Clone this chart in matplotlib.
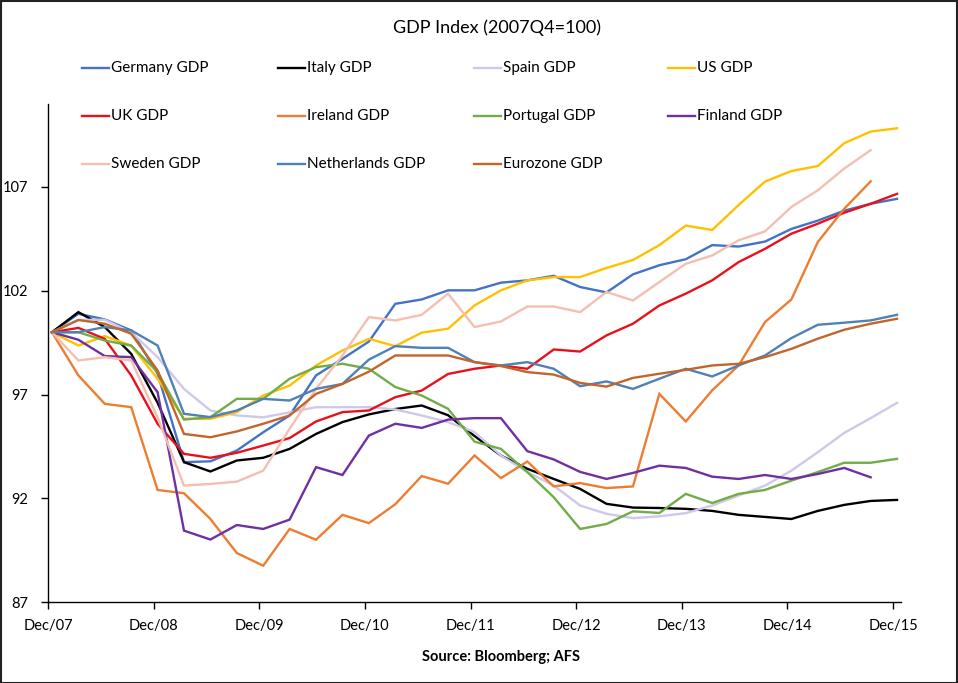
import matplotlib
matplotlib.use("Agg")
import matplotlib.pyplot as plt
from matplotlib.lines import Line2D
from matplotlib.patches import Rectangle
import numpy as np

plt.rcParams['font.family'] = ['Lato', 'DejaVu Sans']

nan = float('nan')

tick_labels = ["Dec/07", "Dec/08", "Dec/09", "Dec/10", "Dec/11",
               "Dec/12", "Dec/13", "Dec/14", "Dec/15"]

germany = [100, 100.89, 100.62, 100.09, 98.0, 93.74, 93.78, 94.3, 95.18, 95.99,
           97.92, 98.72, 99.55, 101.37, 101.58, 102.02, 102.02, 102.39, 102.5,
           102.72, 102.18, 101.92, 102.79, 103.23, 103.52, 104.2, 104.13, 104.37,
           104.98, 105.38, 105.86, 106.19, 106.43]
italy = [100, 100.97, 100.25, 98.96, 96.6, 93.74, 93.29, 93.82, 93.95, 94.38,
         95.10, 95.67, 96.04, 96.3, 96.47, 96.0, 95.0, 94.06, 93.42, 92.93,
         92.45, 91.73, 91.55, 91.53, 91.49, 91.39, 91.2, 91.1, 91.0, 91.39,
         91.68, 91.87, 91.92]
spain = [100, 100.6, 100.6, 100.0, 98.8, 97.27, 96.23, 95.99, 95.9, 96.14,
         96.39, 96.39, 96.39, 96.28, 95.99, 95.67, 95.19, 94.06, 93.26, 92.61,
         91.65, 91.25, 91.04, 91.13, 91.28, 91.65, 92.13, 92.61, 93.33, 94.22,
         95.15, 95.86, 96.6]
us = [100, 99.36, 99.81, 99.36, 97.76, 95.83, 95.83, 96.15, 96.95, 97.43,
      98.4, 99.12, 99.68, 99.33, 99.98, 100.17, 101.29, 102.02, 102.5, 102.66,
      102.66, 103.1, 103.48, 104.2, 105.14, 104.93, 106.13, 107.26, 107.77,
      108.01, 109.11, 109.67, 109.83]
uk = [100, 100.21, 99.68, 97.92, 95.59, 94.14, 93.95, 94.19, 94.54, 94.9,
      95.7, 96.15, 96.23, 96.87, 97.19, 97.99, 98.24, 98.4, 98.24, 99.17,
      99.07, 99.85, 100.41, 101.29, 101.86, 102.5, 103.38, 104.02, 104.75,
      105.23, 105.76, 106.19, 106.67]
ireland = [100, 97.92, 96.55, 96.39, 92.4, 92.24, 91.0, 89.36, 88.75, 90.52,
           90.0, 91.2, 90.8, 91.71, 93.07, 92.7, 94.06, 92.97, 93.77, 92.57,
           92.73, 92.49, 92.57, 97.03, 95.7, 97.2, 98.4, 100.49, 101.58, 104.35,
           105.95, 107.27, nan]
portugal = [100, 100.0, 99.6, 99.36, 98.08, 95.79, 95.91, 96.79, 96.79, 97.76,
            98.32, 98.48, 98.24, 97.36, 96.95, 96.31, 94.73, 94.38, 93.26, 92.05,
            90.52, 90.76, 91.37, 91.29, 92.21, 91.77, 92.21, 92.4, 92.85, 93.26,
            93.71, 93.71, 93.9]
finland = [100, 99.64, 98.85, 98.8, 97.11, 90.44, 90.01, 90.71, 90.52, 90.97,
           93.5, 93.12, 95.02, 95.59, 95.39, 95.79, 95.86, 95.86, 94.27, 93.87,
           93.27, 92.93, 93.22, 93.57, 93.46, 93.04, 92.93, 93.12, 92.93, 93.17,
           93.46, 93.01, nan]
sweden = [100, 98.64, 98.8, 98.64, 95.9, 92.61, 92.69, 92.8, 93.33, 95.35,
          97.27, 98.88, 100.73, 100.57, 100.84, 101.86, 100.25, 100.52, 101.24,
          101.24, 100.97, 101.94, 101.53, 102.42, 103.3, 103.7, 104.43, 104.86,
          106.04, 106.84, 107.89, 108.77, nan]
netherlands = [100, 100.0, 100.25, 100.09, 99.36, 96.07, 95.91, 96.23, 96.79,
               96.71, 97.27, 97.51, 98.68, 99.33, 99.25, 99.25, 98.56, 98.4,
               98.56, 98.24, 97.4, 97.63, 97.27, 97.76, 98.24, 97.87, 98.4,
               98.88, 99.72, 100.36, 100.46, 100.57, 100.84]
eurozone = [100, 100.59, 100.41, 99.93, 98.16, 95.1, 94.94, 95.22, 95.59, 95.99,
            97.03, 97.51, 98.1, 98.88, 98.88, 98.88, 98.56, 98.37, 98.08, 97.96,
            97.56, 97.38, 97.8, 98.0, 98.19, 98.4, 98.48, 98.8, 99.2, 99.69,
            100.12, 100.41, 100.65]

series = [
    ("Germany GDP", germany, "#4472C4"),
    ("Italy GDP", italy, "#000000"),
    ("Spain GDP", spain, "#CEC8EA"),
    ("US GDP", us, "#FFC000"),
    ("UK GDP", uk, "#E8111B"),
    ("Ireland GDP", ireland, "#ED7D31"),
    ("Portugal GDP", portugal, "#70AD47"),
    ("Finland GDP", finland, "#7030A0"),
    ("Sweden GDP", sweden, "#F4BFB0"),
    ("Netherlands GDP", netherlands, "#4F81B5"),
    ("Eurozone GDP", eurozone, "#C2652A"),
]

W, H = 958, 683
fig = plt.figure(figsize=(W / 100, H / 100), dpi=100)
fig.patch.set_facecolor("white")

ax = fig.add_axes([48 / W, (H - 602) / H, (901 - 48) / W, (602 - 104) / H])

x = np.arange(33) + 0.15
for name, vals, col in series:
    ax.plot(x, vals, color=col, lw=1.7, solid_joinstyle="miter")

ax.set_xlim(0, 32.3)
ax.set_ylim(87, 111)
ax.set_yticks([87, 92, 97, 102, 107])
ax.set_xticks(np.arange(0, 33, 4))
ax.set_xticklabels(tick_labels)
for s in ["top", "right"]:
    ax.spines[s].set_visible(False)
for s in ["left", "bottom"]:
    ax.spines[s].set_linewidth(1.0)
    ax.spines[s].set_color("black")
ax.tick_params(axis="both", direction="out", length=5, width=1, labelsize=10.5,
               colors="black")
ax.tick_params(axis="y", pad=9)
ax.tick_params(axis="x", pad=7)

# Title and source
fig.text(497 / W, 1 - 28 / H, "GDP Index (2007Q4=100)", ha="center", va="center",
         fontsize=13)
fig.text(501 / W, 1 - 657 / H, "Source: Bloomberg; AFS", ha="center", va="center",
         fontsize=10.5, fontweight="bold")

# Legend (3 rows x 4 columns)
col_x = [82, 278, 474, 668]
row_y = [68, 116, 164]
for k, (name, vals, col) in enumerate(series):
    r, c = divmod(k, 4)
    x0 = col_x[c]
    y0 = 1 - row_y[r] / H
    fig.add_artist(Line2D([x0 / W, (x0 + 27) / W], [y0, y0], color=col, lw=1.7,
                          transform=fig.transFigure))
    fig.text((x0 + 29) / W, y0, name, ha="left", va="center", fontsize=11)

fig.add_artist(Rectangle((0.5 / W, 0.5 / H), 1 - 1.5 / W, 1 - 1.5 / H,
                         transform=fig.transFigure, fill=False, ec="#222222", lw=1.5))

fig.savefig("out.png", dpi=100, facecolor="white")
